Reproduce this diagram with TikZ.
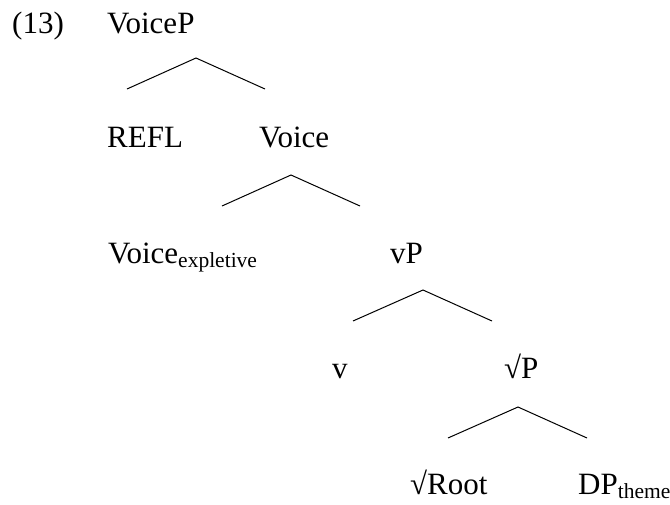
\documentclass[tikz,border=0pt]{standalone}
\usepackage{fontspec}
\setmainfont{Liberation Serif}
\tikzset{
  lbl/.style={anchor=base west, inner sep=0pt, font=\fontsize{31}{37}\selectfont},
  branch/.style={line width=1pt, line join=miter},
}
\newcommand{\mysub}[1]{\raisebox{-4pt}{\fontsize{21.5}{25}\selectfont #1}}
\begin{document}
\begin{tikzpicture}[x=1pt,y=-1pt]
\useasboundingbox (0,0) rectangle (670,504);
\node[lbl] (ex) at (12,33) {(13)};
\node[lbl] (voicep) at (107,33) {VoiceP};
\node[lbl] (refl) at (107,147) {REFL};
\node[lbl] (voice) at (259,147) {Voice};
\node[lbl] (voiceexp) at (108,263) {Voice\mysub{expletive}};
\node[lbl] (vp) at (390,263) {vP};
\node[lbl] (v) at (332,378) {v};
\node[lbl] (rootp) at (504,378) {\symbol{"221A}P};
\node[lbl] (root) at (410,494) {\symbol{"221A}Root};
\node[lbl] (dp) at (578,494) {DP\mysub{theme}};
% branch points
\coordinate (a1) at (196,58);  \coordinate (l1) at (127,89);  \coordinate (r1) at (265,89);
\coordinate (a2) at (291,175); \coordinate (l2) at (222,206); \coordinate (r2) at (360,206);
\coordinate (a3) at (423,290); \coordinate (l3) at (353,321); \coordinate (r3) at (492,321);
\coordinate (a4) at (518,407); \coordinate (l4) at (448,438); \coordinate (r4) at (587,438);
\draw[branch] (l1) -- (a1) -- (r1);
\draw[branch] (l2) -- (a2) -- (r2);
\draw[branch] (l3) -- (a3) -- (r3);
\draw[branch] (l4) -- (a4) -- (r4);
\end{tikzpicture}
\end{document}
